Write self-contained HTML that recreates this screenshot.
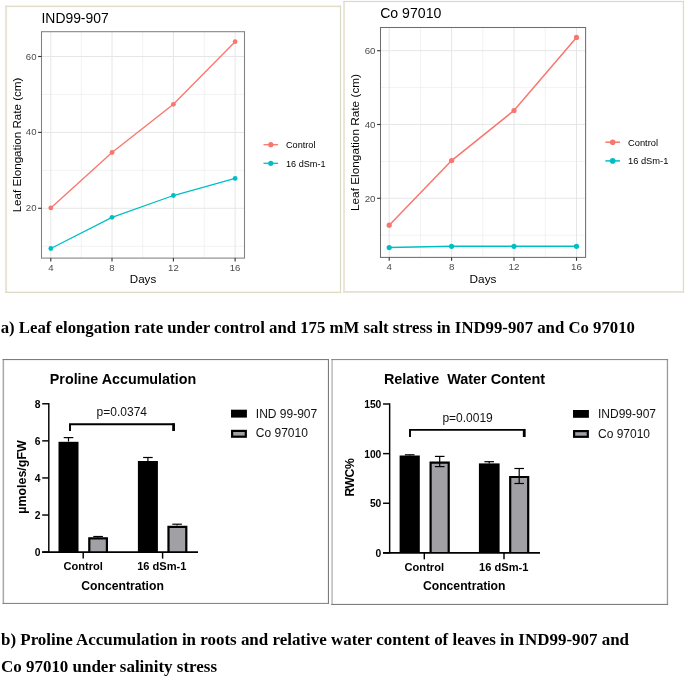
<!DOCTYPE html>
<html><head><meta charset="utf-8"><title>Figure</title>
<style>
html,body{margin:0;padding:0;background:#fff;}
body{width:685px;height:676px;overflow:hidden;position:relative;}
svg{position:absolute;left:0;top:0;display:block;}
text{font-family:"Liberation Sans",Arial,sans-serif;}
.ser{font-family:"Liberation Serif","Times New Roman",serif;font-weight:bold;font-size:16px;fill:#000;}
.b{font-weight:bold;fill:#000;}
.tk{fill:#4d4d4d;}
.lg{fill:#000;}
.ax{fill:#000;}
.tt{fill:#000;}
</style></head><body>
<svg width="685" height="676" viewBox="0 0 685 676">

<rect x="5.1" y="5.6" width="2.00" height="287.40" fill="#e8e5d5"/>
<rect x="339.9" y="5.6" width="1.20" height="287.40" fill="#dfdac4"/>
<rect x="5.1" y="5.6" width="336.00" height="1.50" fill="#e1ddc8"/>
<rect x="5.1" y="291.7" width="336.00" height="1.30" fill="#dfdac4"/>
<line x1="81.40" x2="81.40" y1="31.7" y2="258.1" stroke="#ececec" stroke-width="0.7"/>
<line x1="142.70" x2="142.70" y1="31.7" y2="258.1" stroke="#ececec" stroke-width="0.7"/>
<line x1="204.25" x2="204.25" y1="31.7" y2="258.1" stroke="#ececec" stroke-width="0.7"/>
<line x1="41.5" x2="244.5" y1="246.25" y2="246.25" stroke="#ececec" stroke-width="0.7"/>
<line x1="41.5" x2="244.5" y1="170.35" y2="170.35" stroke="#ececec" stroke-width="0.7"/>
<line x1="41.5" x2="244.5" y1="94.45" y2="94.45" stroke="#ececec" stroke-width="0.7"/>
<line x1="50.80" x2="50.80" y1="31.7" y2="258.1" stroke="#e6e6e6" stroke-width="1"/>
<line x1="112.00" x2="112.00" y1="31.7" y2="258.1" stroke="#e6e6e6" stroke-width="1"/>
<line x1="173.40" x2="173.40" y1="31.7" y2="258.1" stroke="#e6e6e6" stroke-width="1"/>
<line x1="235.10" x2="235.10" y1="31.7" y2="258.1" stroke="#e6e6e6" stroke-width="1"/>
<line x1="41.5" x2="244.5" y1="208.30" y2="208.30" stroke="#e6e6e6" stroke-width="1"/>
<line x1="41.5" x2="244.5" y1="132.40" y2="132.40" stroke="#e6e6e6" stroke-width="1"/>
<line x1="41.5" x2="244.5" y1="56.50" y2="56.50" stroke="#e6e6e6" stroke-width="1"/>
<polyline points="50.80,207.90 112.00,152.50 173.40,104.30 235.10,41.70" fill="none" stroke="#F8766D" stroke-width="1.3"/>
<circle cx="50.80" cy="207.90" r="2.4" fill="#F8766D"/>
<circle cx="112.00" cy="152.50" r="2.4" fill="#F8766D"/>
<circle cx="173.40" cy="104.30" r="2.4" fill="#F8766D"/>
<circle cx="235.10" cy="41.70" r="2.4" fill="#F8766D"/>
<polyline points="50.80,248.50 112.00,217.30 173.40,195.50 235.10,178.40" fill="none" stroke="#00BFC4" stroke-width="1.3"/>
<circle cx="50.80" cy="248.50" r="2.4" fill="#00BFC4"/>
<circle cx="112.00" cy="217.30" r="2.4" fill="#00BFC4"/>
<circle cx="173.40" cy="195.50" r="2.4" fill="#00BFC4"/>
<circle cx="235.10" cy="178.40" r="2.4" fill="#00BFC4"/>
<rect x="41.5" y="31.7" width="203.0" height="226.40000000000003" fill="none" stroke="#808080" stroke-width="1.05"/>
<line x1="50.80" x2="50.80" y1="258.1" y2="261.5" stroke="#333" stroke-width="1.1"/>
<text class="tk" font-size="9.6" x="50.80" y="270.6" text-anchor="middle">4</text>
<line x1="112.00" x2="112.00" y1="258.1" y2="261.5" stroke="#333" stroke-width="1.1"/>
<text class="tk" font-size="9.6" x="112.00" y="270.6" text-anchor="middle">8</text>
<line x1="173.40" x2="173.40" y1="258.1" y2="261.5" stroke="#333" stroke-width="1.1"/>
<text class="tk" font-size="9.6" x="173.40" y="270.6" text-anchor="middle">12</text>
<line x1="235.10" x2="235.10" y1="258.1" y2="261.5" stroke="#333" stroke-width="1.1"/>
<text class="tk" font-size="9.6" x="235.10" y="270.6" text-anchor="middle">16</text>
<line x1="38.1" x2="41.5" y1="208.30" y2="208.30" stroke="#333" stroke-width="1.1"/>
<text class="tk" font-size="9.6" x="36.5" y="211.30" text-anchor="end">20</text>
<line x1="38.1" x2="41.5" y1="132.40" y2="132.40" stroke="#333" stroke-width="1.1"/>
<text class="tk" font-size="9.6" x="36.5" y="135.40" text-anchor="end">40</text>
<line x1="38.1" x2="41.5" y1="56.50" y2="56.50" stroke="#333" stroke-width="1.1"/>
<text class="tk" font-size="9.6" x="36.5" y="59.50" text-anchor="end">60</text>
<text class="tt" font-size="13.9" x="41.5" y="22.9">IND99-907</text>
<text class="ax" font-size="11.6" x="143" y="283.1" text-anchor="middle">Days</text>
<text class="ax" font-size="11.6" transform="translate(20.6,145) rotate(-90)" text-anchor="middle">Leaf Elongation Rate (cm)</text>
<line x1="263.5" x2="278.1" y1="144.7" y2="144.7" stroke="#F8766D" stroke-width="1.3"/>
<circle cx="270.8" cy="144.7" r="2.6" fill="#F8766D"/>
<text class="lg" font-size="9.15" x="286" y="148.0">Control</text>
<line x1="263.5" x2="278.1" y1="163.3" y2="163.3" stroke="#00BFC4" stroke-width="1.3"/>
<circle cx="270.8" cy="163.3" r="2.6" fill="#00BFC4"/>
<text class="lg" font-size="9.15" x="286" y="166.60000000000002">16 dSm-1</text>
<rect x="343.1" y="0.9" width="1.90" height="291.90" fill="#e8e6d9"/>
<rect x="682.8" y="0.9" width="1.30" height="291.90" fill="#e1dbc5"/>
<rect x="343.1" y="0.9" width="341.00" height="1.20" fill="#dfd9c2"/>
<rect x="343.1" y="291.0" width="341.00" height="1.80" fill="#e5e2d2"/>
<line x1="420.40" x2="420.40" y1="27.5" y2="257.4" stroke="#ececec" stroke-width="0.7"/>
<line x1="482.80" x2="482.80" y1="27.5" y2="257.4" stroke="#ececec" stroke-width="0.7"/>
<line x1="545.25" x2="545.25" y1="27.5" y2="257.4" stroke="#ececec" stroke-width="0.7"/>
<line x1="380.5" x2="585.6" y1="235.20" y2="235.20" stroke="#ececec" stroke-width="0.7"/>
<line x1="380.5" x2="585.6" y1="161.40" y2="161.40" stroke="#ececec" stroke-width="0.7"/>
<line x1="380.5" x2="585.6" y1="87.60" y2="87.60" stroke="#ececec" stroke-width="0.7"/>
<line x1="389.20" x2="389.20" y1="27.5" y2="257.4" stroke="#e6e6e6" stroke-width="1"/>
<line x1="451.60" x2="451.60" y1="27.5" y2="257.4" stroke="#e6e6e6" stroke-width="1"/>
<line x1="514.00" x2="514.00" y1="27.5" y2="257.4" stroke="#e6e6e6" stroke-width="1"/>
<line x1="576.50" x2="576.50" y1="27.5" y2="257.4" stroke="#e6e6e6" stroke-width="1"/>
<line x1="380.5" x2="585.6" y1="198.30" y2="198.30" stroke="#e6e6e6" stroke-width="1"/>
<line x1="380.5" x2="585.6" y1="124.50" y2="124.50" stroke="#e6e6e6" stroke-width="1"/>
<line x1="380.5" x2="585.6" y1="50.70" y2="50.70" stroke="#e6e6e6" stroke-width="1"/>
<polyline points="389.20,225.20 451.60,160.60 514.00,110.50 576.50,37.40" fill="none" stroke="#F8766D" stroke-width="1.5"/>
<circle cx="389.20" cy="225.20" r="2.6" fill="#F8766D"/>
<circle cx="451.60" cy="160.60" r="2.6" fill="#F8766D"/>
<circle cx="514.00" cy="110.50" r="2.6" fill="#F8766D"/>
<circle cx="576.50" cy="37.40" r="2.6" fill="#F8766D"/>
<polyline points="389.20,247.60 451.60,246.30 514.00,246.30 576.50,246.30" fill="none" stroke="#00BFC4" stroke-width="1.5"/>
<circle cx="389.20" cy="247.60" r="2.6" fill="#00BFC4"/>
<circle cx="451.60" cy="246.30" r="2.6" fill="#00BFC4"/>
<circle cx="514.00" cy="246.30" r="2.6" fill="#00BFC4"/>
<circle cx="576.50" cy="246.30" r="2.6" fill="#00BFC4"/>
<rect x="380.5" y="27.5" width="205.10000000000002" height="229.89999999999998" fill="none" stroke="#6e6e6e" stroke-width="1.05"/>
<line x1="389.20" x2="389.20" y1="257.4" y2="260.79999999999995" stroke="#333" stroke-width="1.1"/>
<text class="tk" font-size="9.75" x="389.20" y="269.9" text-anchor="middle">4</text>
<line x1="451.60" x2="451.60" y1="257.4" y2="260.79999999999995" stroke="#333" stroke-width="1.1"/>
<text class="tk" font-size="9.75" x="451.60" y="269.9" text-anchor="middle">8</text>
<line x1="514.00" x2="514.00" y1="257.4" y2="260.79999999999995" stroke="#333" stroke-width="1.1"/>
<text class="tk" font-size="9.75" x="514.00" y="269.9" text-anchor="middle">12</text>
<line x1="576.50" x2="576.50" y1="257.4" y2="260.79999999999995" stroke="#333" stroke-width="1.1"/>
<text class="tk" font-size="9.75" x="576.50" y="269.9" text-anchor="middle">16</text>
<line x1="377.1" x2="380.5" y1="198.30" y2="198.30" stroke="#333" stroke-width="1.1"/>
<text class="tk" font-size="9.75" x="375.5" y="201.80" text-anchor="end">20</text>
<line x1="377.1" x2="380.5" y1="124.50" y2="124.50" stroke="#333" stroke-width="1.1"/>
<text class="tk" font-size="9.75" x="375.5" y="128.00" text-anchor="end">40</text>
<line x1="377.1" x2="380.5" y1="50.70" y2="50.70" stroke="#333" stroke-width="1.1"/>
<text class="tk" font-size="9.75" x="375.5" y="54.20" text-anchor="end">60</text>
<text class="tt" font-size="14.1" x="380.2" y="18.1">Co 97010</text>
<text class="ax" font-size="11.8" x="483" y="283" text-anchor="middle">Days</text>
<text class="ax" font-size="11.8" transform="translate(358.8,142.5) rotate(-90)" text-anchor="middle">Leaf Elongation Rate (cm)</text>
<line x1="605.4000000000001" x2="620.0" y1="142.2" y2="142.2" stroke="#F8766D" stroke-width="1.5"/>
<circle cx="612.7" cy="142.2" r="2.8000000000000003" fill="#F8766D"/>
<text class="lg" font-size="9.3" x="628" y="145.5">Control</text>
<line x1="605.4000000000001" x2="620.0" y1="160.9" y2="160.9" stroke="#00BFC4" stroke-width="1.5"/>
<circle cx="612.7" cy="160.9" r="2.8000000000000003" fill="#00BFC4"/>
<text class="lg" font-size="9.3" x="628" y="164.20000000000002">16 dSm-1</text>
<text class="ser" x="0.7" y="332.6" textLength="634.3" lengthAdjust="spacingAndGlyphs">a) Leaf elongation rate under control and 175 mM salt stress in IND99-907 and Co 97010</text>
<text class="ser" x="1" y="644.8" textLength="628" lengthAdjust="spacingAndGlyphs">b) Proline Accumulation in roots and relative water content of leaves in IND99-907 and</text>
<text class="ser" x="1" y="671.6" textLength="216" lengthAdjust="spacingAndGlyphs">Co 97010 under salinity stress</text>
<rect x="2.6" y="359.0" width="1.50" height="244.90" fill="#a9a9a9"/>
<rect x="327.9" y="359.0" width="1.10" height="244.90" fill="#7c7c7c"/>
<rect x="2.6" y="359.0" width="326.40" height="1.10" fill="#7c7c7c"/>
<rect x="2.6" y="602.9" width="326.40" height="1.00" fill="#7c7c7c"/>
<rect x="58.5" y="441.8" width="20.0" height="110.30000000000001" fill="#000"/>
<rect x="88.70" y="537.70" width="18.80" height="14.40" fill="#a1a1a5"/>
<path d="M89.30,552.1 V538.30 H106.90 V552.1" fill="none" stroke="#000" stroke-width="2.2"/>
<rect x="137.9" y="461" width="20.0" height="91.10000000000002" fill="#000"/>
<rect x="167.90" y="526.20" width="19.00" height="25.90" fill="#a1a1a5"/>
<path d="M168.50,552.1 V526.80 H186.30 V552.1" fill="none" stroke="#000" stroke-width="2.2"/>
<line x1="68.5" x2="68.5" y1="437.6" y2="441.5" stroke="#000" stroke-width="1.2"/>
<line x1="63.7" x2="73.3" y1="437.6" y2="437.6" stroke="#000" stroke-width="1.2"/>
<line x1="98.1" x2="98.1" y1="536.5" y2="537.2" stroke="#000" stroke-width="1.2"/>
<line x1="93.3" x2="102.89999999999999" y1="536.5" y2="536.5" stroke="#000" stroke-width="1.2"/>
<line x1="147.9" x2="147.9" y1="457.5" y2="461" stroke="#000" stroke-width="1.2"/>
<line x1="143.1" x2="152.70000000000002" y1="457.5" y2="457.5" stroke="#000" stroke-width="1.2"/>
<line x1="177.1" x2="177.1" y1="524.2" y2="525.5" stroke="#000" stroke-width="1.2"/>
<line x1="172.29999999999998" x2="181.9" y1="524.2" y2="524.2" stroke="#000" stroke-width="1.2"/>
<line x1="48.8" x2="48.8" y1="403.1" y2="552.8000000000001" stroke="#000" stroke-width="1.45"/>
<line x1="42.199999999999996" x2="198" y1="552.1" y2="552.1" stroke="#000" stroke-width="1.7"/>
<line x1="42.199999999999996" x2="48.8" y1="552.10" y2="552.10" stroke="#000" stroke-width="1.45"/>
<text class="b" font-size="10.3" x="40.5" y="556.10" text-anchor="end">0</text>
<line x1="42.199999999999996" x2="48.8" y1="515.02" y2="515.02" stroke="#000" stroke-width="1.45"/>
<text class="b" font-size="10.3" x="40.5" y="519.02" text-anchor="end">2</text>
<line x1="42.199999999999996" x2="48.8" y1="477.94" y2="477.94" stroke="#000" stroke-width="1.45"/>
<text class="b" font-size="10.3" x="40.5" y="481.94" text-anchor="end">4</text>
<line x1="42.199999999999996" x2="48.8" y1="440.86" y2="440.86" stroke="#000" stroke-width="1.45"/>
<text class="b" font-size="10.3" x="40.5" y="444.86" text-anchor="end">6</text>
<line x1="42.199999999999996" x2="48.8" y1="403.78" y2="403.78" stroke="#000" stroke-width="1.45"/>
<text class="b" font-size="10.3" x="40.5" y="407.78" text-anchor="end">8</text>
<line x1="83.2" x2="83.2" y1="552.1" y2="558.6" stroke="#000" stroke-width="1.45"/>
<line x1="162.6" x2="162.6" y1="552.1" y2="558.6" stroke="#000" stroke-width="1.45"/>
<text class="b" font-size="14.3" x="49.8" y="383.7" xml:space="preserve">Proline Accumulation</text>
<text class="b" font-size="12.45" letter-spacing="0" transform="translate(26.2,477) rotate(-90)" text-anchor="middle">µmoles/gFW</text>
<text class="b" font-size="11.1" x="83.2" y="569.9" text-anchor="middle">Control</text>
<text class="b" font-size="11.1" x="161.8" y="569.9" text-anchor="middle">16 dSm-1</text>
<text class="b" font-size="12.2" x="122.6" y="589.6" text-anchor="middle">Concentration</text>
<text font-size="12" x="121.8" y="416.0" text-anchor="middle" fill="#111">p=0.0374</text>
<polyline points="70,431.0 70,424.3 173.8,424.3 173.8,431.0" fill="none" stroke="#000" stroke-width="1.9"/>
<rect x="172.25" y="423.35" width="2.6" height="7.65" fill="#000"/>
<rect x="231.0" y="409.7" width="15.900000000000006" height="7.900000000000034" fill="#000"/>
<rect x="232.10" y="430.90" width="13.70" height="5.80" fill="#a1a1a5" stroke="#000" stroke-width="2.2"/>
<text font-size="12" x="255.8" y="417.5" fill="#111">IND 99-907</text>
<text font-size="12" x="255.8" y="437.3" fill="#111">Co 97010</text>
<rect x="331.2" y="359.0" width="1.80" height="246.00" fill="#c6c6c6"/>
<rect x="666.8" y="359.0" width="1.30" height="246.00" fill="#999999"/>
<rect x="331.2" y="359.0" width="336.90" height="1.10" fill="#8c8c8c"/>
<rect x="331.2" y="603.9" width="336.90" height="1.10" fill="#7c7c7c"/>
<rect x="399.6" y="455.5" width="20.19999999999999" height="97.35000000000002" fill="#000"/>
<rect x="430.00" y="462.00" width="19.30" height="90.85" fill="#a1a1a5"/>
<path d="M430.60,552.85 V462.60 H448.70 V552.85" fill="none" stroke="#000" stroke-width="2.2"/>
<rect x="478.9" y="463.4" width="20.700000000000045" height="89.45000000000005" fill="#000"/>
<rect x="509.60" y="476.40" width="19.20" height="76.45" fill="#a1a1a5"/>
<path d="M510.20,552.85 V477.00 H528.20 V552.85" fill="none" stroke="#000" stroke-width="2.2"/>
<line x1="409.7" x2="409.7" y1="454.8" y2="455.5" stroke="#000" stroke-width="1.2"/>
<line x1="404.9" x2="414.5" y1="454.8" y2="454.8" stroke="#000" stroke-width="1.2"/>
<line x1="439.7" x2="439.7" y1="456.4" y2="466.6" stroke="#000" stroke-width="1.2"/>
<line x1="434.9" x2="444.5" y1="456.4" y2="456.4" stroke="#000" stroke-width="1.2"/>
<line x1="434.9" x2="444.5" y1="466.6" y2="466.6" stroke="#000" stroke-width="1.2"/>
<line x1="489.2" x2="489.2" y1="461.7" y2="463.4" stroke="#000" stroke-width="1.2"/>
<line x1="484.4" x2="494.0" y1="461.7" y2="461.7" stroke="#000" stroke-width="1.2"/>
<line x1="519.2" x2="519.2" y1="468.5" y2="483.5" stroke="#000" stroke-width="1.2"/>
<line x1="514.4000000000001" x2="524.0" y1="468.5" y2="468.5" stroke="#000" stroke-width="1.2"/>
<line x1="514.4000000000001" x2="524.0" y1="483.5" y2="483.5" stroke="#000" stroke-width="1.2"/>
<line x1="389.65" x2="389.65" y1="403.3" y2="553.5500000000001" stroke="#000" stroke-width="1.45"/>
<line x1="383.04999999999995" x2="540" y1="552.85" y2="552.85" stroke="#000" stroke-width="1.7"/>
<line x1="383.04999999999995" x2="389.65" y1="552.85" y2="552.85" stroke="#000" stroke-width="1.45"/>
<text class="b" font-size="10.3" x="381.34999999999997" y="556.85" text-anchor="end">0</text>
<line x1="383.04999999999995" x2="389.65" y1="503.24" y2="503.24" stroke="#000" stroke-width="1.45"/>
<text class="b" font-size="10.3" x="381.34999999999997" y="507.24" text-anchor="end">50</text>
<line x1="383.04999999999995" x2="389.65" y1="453.62" y2="453.62" stroke="#000" stroke-width="1.45"/>
<text class="b" font-size="10.3" x="381.34999999999997" y="457.62" text-anchor="end">100</text>
<line x1="383.04999999999995" x2="389.65" y1="404.00" y2="404.00" stroke="#000" stroke-width="1.45"/>
<text class="b" font-size="10.3" x="381.34999999999997" y="408.00" text-anchor="end">150</text>
<line x1="424.3" x2="424.3" y1="552.85" y2="559.35" stroke="#000" stroke-width="1.45"/>
<line x1="504.0" x2="504.0" y1="552.85" y2="559.35" stroke="#000" stroke-width="1.45"/>
<text class="b" font-size="14.42" x="383.9" y="383.5" xml:space="preserve">Relative  Water Content</text>
<text class="b" font-size="12.2" letter-spacing="-0.45" transform="translate(354.2,477.6) rotate(-90)" text-anchor="middle">RWC%</text>
<text class="b" font-size="11.1" x="424.3" y="570.5" text-anchor="middle">Control</text>
<text class="b" font-size="11.1" x="503.7" y="570.5" text-anchor="middle">16 dSm-1</text>
<text class="b" font-size="12.2" x="464.2" y="589.8" text-anchor="middle">Concentration</text>
<text font-size="12" x="467.6" y="422.1" text-anchor="middle" fill="#111">p=0.0019</text>
<polyline points="410,437.0 410,429.9 524.4,429.9 524.4,437.0" fill="none" stroke="#000" stroke-width="1.9"/>
<rect x="522.85" y="428.95" width="2.6" height="8.05" fill="#000"/>
<rect x="573.0" y="410.0" width="15.899999999999977" height="7.800000000000011" fill="#000"/>
<rect x="574.10" y="431.10" width="13.70" height="5.70" fill="#a1a1a5" stroke="#000" stroke-width="2.2"/>
<text font-size="12" x="598.0" y="418" fill="#111">IND99-907</text>
<text font-size="12" x="598.0" y="437.6" fill="#111">Co 97010</text>
</svg></body></html>
